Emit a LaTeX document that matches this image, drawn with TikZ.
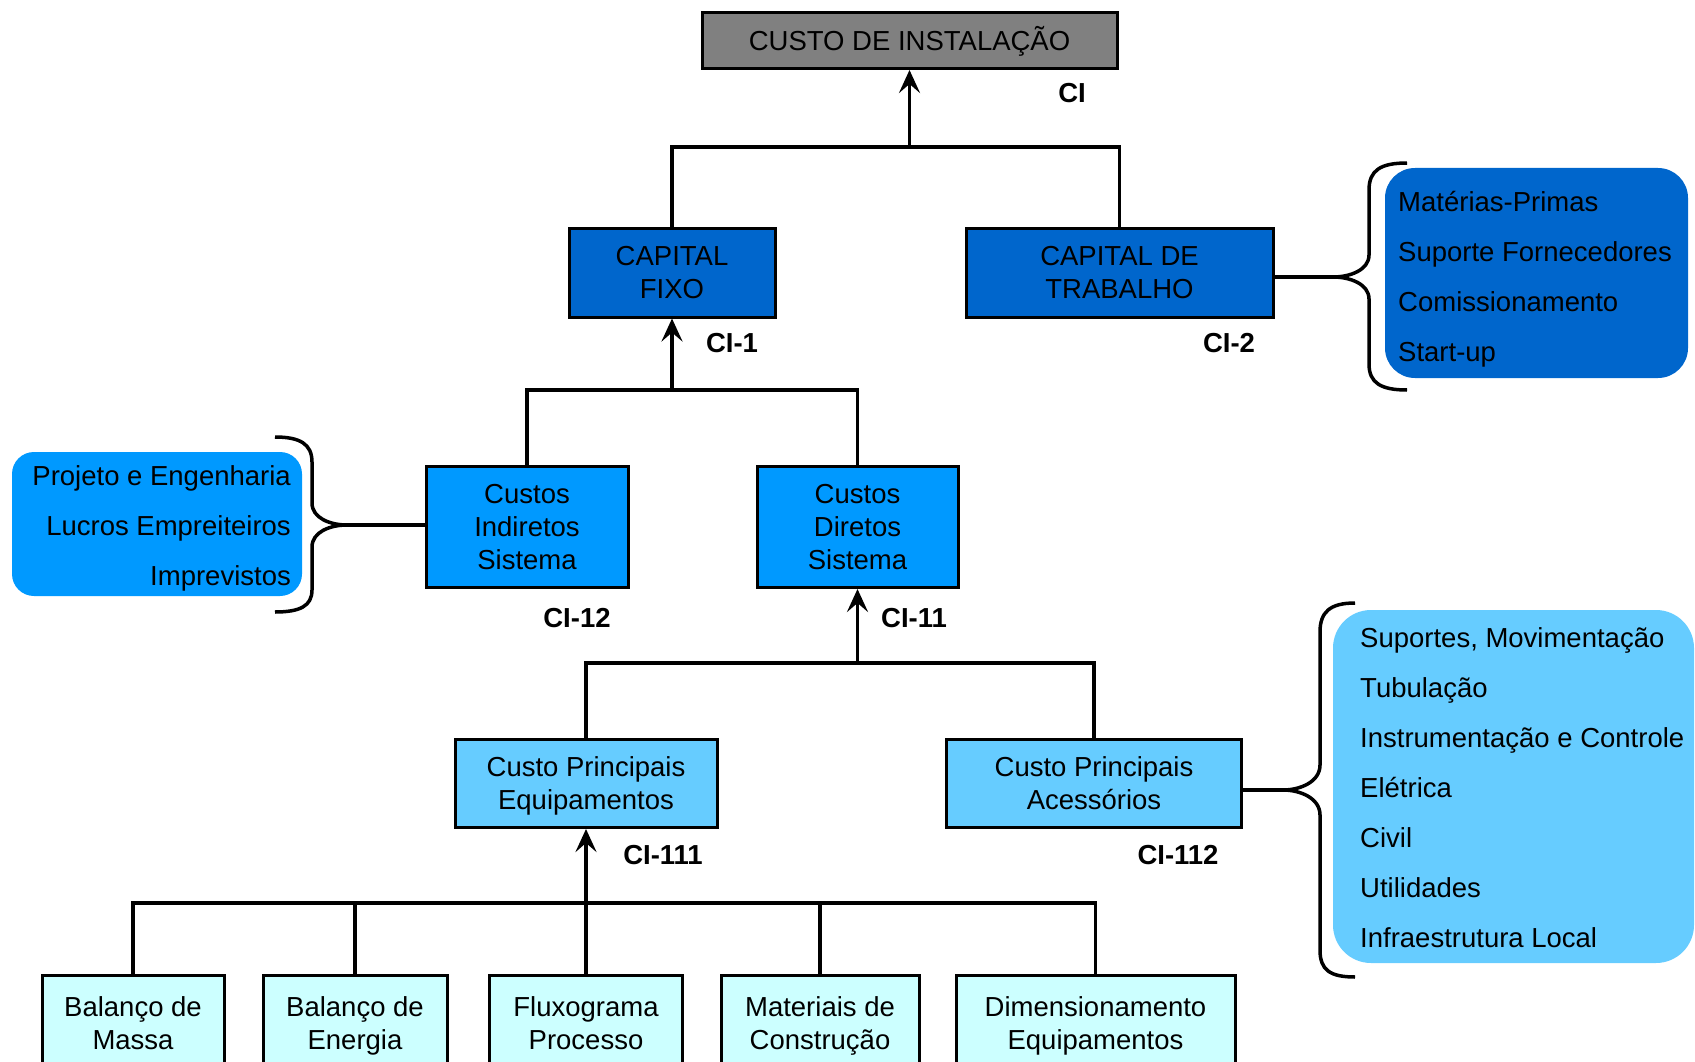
\documentclass[tikz,border=0pt]{standalone}
\usepackage{fontspec}
\setmainfont{Liberation Sans}
\usetikzlibrary{arrows.meta}

\definecolor{cgray}{HTML}{808080}
\definecolor{cdark}{HTML}{0066CC}
\definecolor{cmid}{HTML}{0099FF}
\definecolor{clight}{HTML}{66CCFF}
\definecolor{cpale}{HTML}{CCFFFF}

% line strut: same height and depth on every line, centred on the capitals
\newcommand\lnstrut{\rule[-6.5pt]{0pt}{32.7pt}}

\tikzset{
  box/.style={draw=black, line width=3pt, rectangle, align=center, inner sep=0pt,
    font=\fontsize{27.5}{33}\selectfont},
  listbox/.style={rectangle, rounded corners=#1, inner sep=0pt},
  listtext/.style={inner sep=0pt, font=\fontsize{27.5}{50}\selectfont},
  code/.style={inner sep=0pt, font=\fontsize{27.5}{33}\selectfont\bfseries},
  conn/.style={line width=3.5pt},
  arr/.style={line width=3.5pt, -{Stealth[length=23pt,width=21pt,inset=9pt]}},
  brace/.style={line width=3.5pt}
}

\begin{document}
\begin{tikzpicture}[x=1pt,y=-1pt]
\useasboundingbox (0,0) rectangle (1695,1062);
\clip (0,0) rectangle (1695,1062);

% main hierarchy
\node[box, fill=cgray, minimum width=415pt, minimum height=56pt] (ci) at (909.5,40.5) {\lnstrut CUSTO DE INSTALAÇÃO};
\node[box, fill=cdark, minimum width=206pt, minimum height=89pt] (cf) at (672,272.5) {\lnstrut CAPITAL\\\lnstrut FIXO};
\node[box, fill=cdark, minimum width=307pt, minimum height=89pt] (ct) at (1119.5,272.5) {\lnstrut CAPITAL DE\\\lnstrut TRABALHO};
\node[box, fill=cmid, minimum width=202pt, minimum height=121pt] (cin) at (527,526.5) {\lnstrut Custos\\\lnstrut Indiretos\\\lnstrut Sistema};
\node[box, fill=cmid, minimum width=201pt, minimum height=121pt] (cdi) at (857.5,527) {\lnstrut Custos\\\lnstrut Diretos\\\lnstrut Sistema};
\node[box, fill=clight, minimum width=262pt, minimum height=88pt] (ceq) at (586,783.5) {\lnstrut Custo Principais\\\lnstrut Equipamentos};
\node[box, fill=clight, minimum width=295pt, minimum height=88pt] (cac) at (1094,783.5) {\lnstrut Custo Principais\\\lnstrut Acessórios};

% basic design items
\node[box, fill=cpale, minimum width=182pt, minimum height=96pt] (b1) at (133,1023) {\lnstrut Balanço de\\\lnstrut Massa};
\node[box, fill=cpale, minimum width=184pt, minimum height=96pt] (b2) at (355,1023) {\lnstrut Balanço de\\\lnstrut Energia};
\node[box, fill=cpale, minimum width=193pt, minimum height=96pt] (b3) at (586,1023) {\lnstrut Fluxograma\\\lnstrut Processo};
\node[box, fill=cpale, minimum width=198pt, minimum height=96pt] (b4) at (820,1023) {\lnstrut Materiais de\\\lnstrut Construção};
\node[box, fill=cpale, minimum width=279pt, minimum height=96pt] (b5) at (1095.5,1023) {\lnstrut Dimensionamento\\\lnstrut Equipamentos};

% codes
\node[code] (lci) at (1072,93) {CI};
\node[code] (lcf) at (732,343) {CI-1};
\node[code] (lct) at (1229,343) {CI-2};
\node[code] (lcin) at (577,618) {CI-12};
\node[code] (lcdi) at (914,618) {CI-11};
\node[code] (lceq) at (663,855) {CI-111};
\node[code] (lcac) at (1178,855) {CI-112};

% tree connectors
\coordinate (j0) at (909.5,147);
\coordinate (j1) at (672,390);
\coordinate (j2) at (857.5,663);
\coordinate (j3) at (586,903);
\draw[conn] (cf.north) |- (j0) -| (ct.north);
\draw[arr] (j0) -- (ci.south);
\draw[conn] (cin.north) |- (j1) -| (cdi.north);
\draw[arr] (j1) -- (cf.south);
\draw[conn] (ceq.north) |- (j2) -| (cac.north);
\draw[arr] (j2) -- (cdi.south);
\draw[conn] (b1.north) |- (j3) -| (b5.north);
\draw[conn] (b2.north) -- (b2.north |- j3);
\draw[conn] (b4.north) -- (b4.north |- j3);
\draw[conn] (b3.north) -- (j3);
\draw[arr] (j3) -- (ceq.south);

% working capital items
\node[listbox=30pt, fill=cdark, minimum width=303pt, minimum height=210pt] (s2) at (1536.5,273) {};
\node[listtext, anchor=west, align=left] (s2t) at (1398,277) {\lnstrut Matérias-Primas\\\lnstrut Suporte Fornecedores\\\lnstrut Comissionamento\\\lnstrut Start-up};
\coordinate (t2) at (1333,277);
\draw[brace] (1407,163) .. controls (1381,163) and (1369,170) .. (1369,190) -- (1369,255)
  .. controls (1369,270) and (1350,277) .. (t2)
  .. controls (1350,277) and (1369,284) .. (1369,299) -- (1369,364)
  .. controls (1369,383) and (1381,390) .. (1407,390);
\draw[conn] (ct.east |- t2) -- (t2);

% indirect cost items
\node[listbox=22pt, fill=cmid, minimum width=290pt, minimum height=144pt] (s12) at (157,524) {};
\node[listtext, anchor=east, align=right] (s12t) at (291,526) {\lnstrut Projeto e Engenharia\\\lnstrut Lucros Empreiteiros\\\lnstrut Imprevistos};
\coordinate (t12) at (347,525);
\draw[brace] (275,437) .. controls (300,437) and (312,444) .. (312,462) -- (312,503)
  .. controls (312,518) and (330,525) .. (t12)
  .. controls (330,525) and (312,532) .. (312,547) -- (312,590)
  .. controls (312,606) and (300,612) .. (275,612);
\draw[conn] (t12) -- (cin.west |- t12);

% accessory items
\node[listbox=38pt, fill=clight, minimum width=361pt, minimum height=353pt] (s112) at (1513.5,786.5) {};
\node[listtext, anchor=west, align=left] (s112t) at (1360,788) {\lnstrut Suportes, Movimentação\\\lnstrut Tubulação\\\lnstrut Instrumentação e Controle\\\lnstrut Elétrica\\\lnstrut Civil\\\lnstrut Utilidades\\\lnstrut Infraestrutura Local};
\coordinate (t112) at (1283,790);
\draw[brace] (1355,603) .. controls (1330,603) and (1320,612) .. (1320,632) -- (1320,765)
  .. controls (1320,782) and (1300,790) .. (t112)
  .. controls (1300,790) and (1320,798) .. (1320,815) -- (1320,950)
  .. controls (1320,970) and (1330,977) .. (1355,977);
\draw[conn] (cac.east |- t112) -- (t112);
\end{tikzpicture}
\end{document}
